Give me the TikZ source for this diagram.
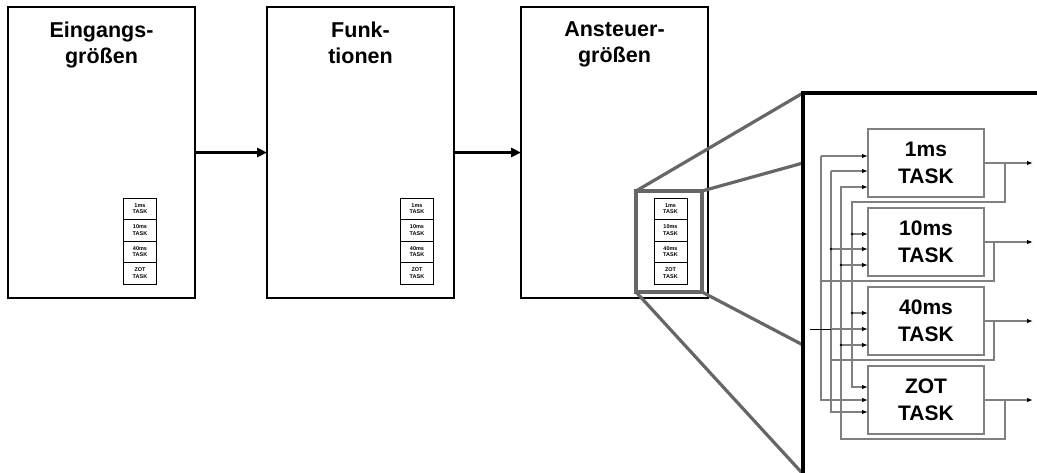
\documentclass[tikz,border=0pt]{standalone}
\usepackage{fontspec}
\setmainfont{Liberation Sans}
\usetikzlibrary{arrows.meta,calc,positioning}

\definecolor{lineg}{gray}{0.50}
\definecolor{zoomg}{gray}{0.40}

\tikzset{
  bigbox/.style={draw=black, line width=1.6pt, minimum width=187pt, minimum height=291pt, inner sep=0pt, outer sep=0pt},
  title/.style={font=\bfseries\fontsize{21.5}{26}\selectfont, align=center, inner sep=0pt, anchor=north},
  flow/.style={line width=2.6pt, -{Triangle[length=10pt,width=9pt]}},
  cell/.style={draw=black, line width=0.9pt, minimum width=33pt, minimum height=21.5pt, inner sep=0pt, outer sep=0pt,
    font=\bfseries\fontsize{5.5}{6.5}\selectfont, align=center},
  zoomline/.style={draw=zoomg, line width=3.2pt},
  task/.style={draw=lineg, line width=1.1pt, minimum width=116pt, minimum height=68pt, inner sep=0pt, outer sep=0pt,
    font=\bfseries\fontsize{21}{27}\selectfont, align=center},
  conn/.style={draw=lineg, line width=1.1pt},
  tip/.style={-{Latex[length=6pt,width=4.5pt,color=black]}},
  jdot/.style={circle, fill=black, inner sep=0pt, minimum size=2.6pt},
}

% a column of four small task cells, top edge at (#2,#3)
\newcommand{\taskcolumn}[3]{%
  \node[cell, anchor=north] (#1a) at (#2,#3) {1ms\\TASK};
  \node[cell, anchor=north] (#1b) at (#1a.south) {10ms\\TASK};
  \node[cell, anchor=north] (#1c) at (#1b.south) {40ms\\TASK};
  \node[cell, anchor=north] (#1d) at (#1c.south) {ZOT\\TASK};
}

\begin{document}
\begin{tikzpicture}[x=1pt, y=-1pt]
\useasboundingbox (0,0) rectangle (1037,472);

% three main stages
\node[bigbox] (ein) at (101.5,152.5) {};
\node[bigbox] (fun) at (360.5,152.5) {};
\node[bigbox] (ans) at (614.5,152.5) {};

\node[title] at ($(ein.north)+(0,15)$) {Eingangs-\\größen};
\node[title] at ($(fun.north)+(0,15)$) {Funk-\\tionen};
\node[title] at ($(ans.north)+(0,15)$) {Ansteuer-\\größen};

\draw[flow] (ein.east) -- (fun.west);
\draw[flow] (fun.east) -- (ans.west);

% task columns inside each stage
\taskcolumn{p}{140}{198}
\taskcolumn{q}{417}{198}
\taskcolumn{r}{670.5}{198}

% magnifier frame and its rays
\coordinate (zA) at (636,191);
\coordinate (zB) at (702,191);
\coordinate (zC) at (702,292);
\coordinate (zD) at (636,292);
\coordinate (pA) at (803,93);
\coordinate (pB) at (803,163);
\coordinate (pC) at (803,345);
\coordinate (pD) at (803,474);
\draw[zoomline] (zA) -- (pA);
\draw[zoomline] (zB) -- (pB);
\draw[zoomline] (zC) -- (pC);
\draw[zoomline] (zD) -- (pD);
\draw[zoomline] (zA) rectangle (zC);

% enlarged panel
\coordinate (pE) at (1040,93);
\draw[line width=3.6pt] (pD) -- (pA) -- (pE);

% enlarged tasks
\node[task] (T1) at (926,163) {1ms\\TASK};
\node[task] (T2) at (926,242) {10ms\\TASK};
\node[task] (T3) at (926,321) {40ms\\TASK};
\node[task] (T4) at (926,400) {ZOT\\TASK};

% bus columns and branch points
\coordinate (ba) at (821,0);
\coordinate (bb) at (831,0);
\coordinate (bc) at (841,0);
\coordinate (bd) at (852,0);
\coordinate (fa) at (1005,0);
\coordinate (fb) at (994,0);
\coordinate (ext) at (810,0);

% task inputs
\coordinate (i11) at ($(T1.west)+(0,-7)$);
\coordinate (i12) at ($(T1.west)+(0,8)$);
\coordinate (i13) at ($(T1.west)+(0,24)$);
\coordinate (i21) at ($(T2.west)+(0,-8)$);
\coordinate (i22) at ($(T2.west)+(0,7)$);
\coordinate (i23) at ($(T2.west)+(0,23)$);
\coordinate (i31) at ($(T3.west)+(0,-8)$);
\coordinate (i32) at ($(T3.west)+(0,8)$);
\coordinate (i33) at ($(T3.west)+(0,24)$);
\coordinate (i41) at ($(T4.west)+(0,-13)$);
\coordinate (i42) at ($(T4.west)+(0,0)$);
\coordinate (i43) at ($(T4.west)+(0,12)$);

% task outputs
\foreach \k in {1,2,3,4}{
  \draw[conn,tip] (T\k.east) -- ++(49,0) coordinate (o\k);
}

% 1ms result -> bus D
\draw[conn,tip] (T1.east -| fa) -- ++(0,39) -| (i41 -| bd) -- (i41);
\foreach \j in {21,31}{
  \draw[conn,tip] (i\j -| bd) -- (i\j);
  \node[jdot] at (i\j -| bd) {};
}

% 10ms result -> bus A
\draw[conn] (T2.east -| fb) -- ++(0,39) coordinate (r2) -- (r2 -| ba);
\node[jdot] at (r2 -| ba) {};
\draw[conn,tip] (i11 -| ba) -- (i42 -| ba) -- (i42);
\draw[conn,tip] (i11 -| ba) -- (i11);

% 40ms result -> bus B
\draw[conn] (T3.east -| fb) -- ++(0,39) coordinate (r3) -- (r3 -| bb);
\node[jdot] at (r3 -| bb) {};
\draw[conn,tip] (i12 -| bb) -- (i43 -| bb) -- (i43);
\draw[conn,tip] (i12 -| bb) -- (i12);
\draw[conn,tip] (i22 -| bb) -- (i22);
\node[jdot] at (i22 -| bb) {};
\draw[conn,tip] (i32 -| bb) -- (i32);
\draw[line width=0.9pt] (i32 -| ext) -- (i32 -| bb);

% ZOT result -> bus C
\draw[conn,tip] (T4.east -| fa) -- ++(0,39) -| (i13 -| bc) -- (i13);
\foreach \j in {23,33}{
  \draw[conn,tip] (i\j -| bc) -- (i\j);
  \node[jdot] at (i\j -| bc) {};
}

\end{tikzpicture}
\end{document}
